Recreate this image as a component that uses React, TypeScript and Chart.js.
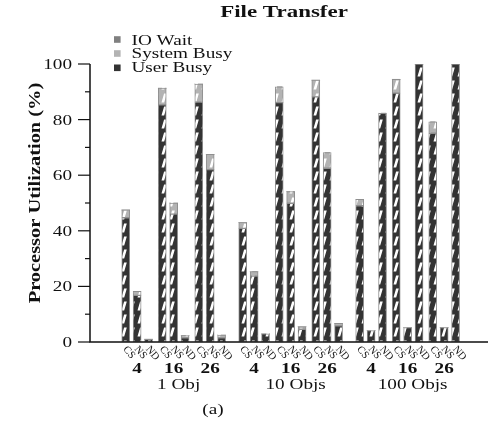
import { useEffect, useRef } from 'react';
import { Chart, registerables } from 'chart.js';

Chart.register(...registerables);

// ---- data ----
const groups = ['1 Obj', '10 Objs', '100 Objs'];
const subgroups = ['4', '16', '26'];
const configs = ['CS', 'NS', 'ND'];

// order: group -> subgroup -> config
const userBusy = [
  44.7, 16.8, 1.0, 85.3, 46.0, 1.5, 86.3, 62.0, 1.5,
  40.9, 23.7, 2.9, 86.1, 49.9, 4.6, 88.2, 62.5, 5.8,
  49.0, 4.1, 82.3, 89.5, 5.2, 100, 75.1, 5.2, 100,
];
const systemBusy = [
  2.8, 1.4, 0, 6.0, 4.0, 0.8, 6.5, 5.5, 1.0,
  2.1, 1.6, 0, 5.7, 4.2, 0.9, 6.0, 5.6, 0.9,
  2.3, 0, 0, 5.0, 0, 0, 4.1, 0, 0,
];
const ioWait = [
  0, 0, 0, 0, 0, 0, 0, 0, 0,
  0, 0, 0, 0, 0, 0, 0, 0, 0,
  0, 0, 0, 0, 0, 0, 0, 0, 0,
];
const yMajorTicks = [0, 20, 40, 60, 80, 100];
const yMinorTicks = [10, 30, 50, 70, 90];

const seriesLabels = ['IO Wait', 'System Busy', 'User Busy'];
const seriesColors = ['#808080', '#b3b3b3', '#333333'];

// ---- layout constants ----
const GROUP_STEP = 10.25;
const SUB_STEP = 3.2;
const xPos = (i: number) =>
  Math.floor(i / 9) * GROUP_STEP + (Math.floor(i / 3) % 3) * SUB_STEP + (i % 3);

const SERIF = '"Liberation Serif", "Times New Roman", serif';
const HS = 1.28;

function makePattern(bg: string, stripe: string) {
  const c = document.createElement('canvas');
  c.width = 8;
  c.height = 13;
  const x = c.getContext('2d')!;
  x.fillStyle = bg;
  x.fillRect(0, 0, 8, 13);
  x.fillStyle = stripe;
  x.beginPath();
  x.moveTo(1.5, 11.5);
  x.lineTo(4.2, 11.5);
  x.lineTo(6.8, 2.5);
  x.lineTo(4.1, 2.5);
  x.closePath();
  x.fill();
  return x.createPattern(c, 'repeat')!;
}

function txt(
  ctx: CanvasRenderingContext2D,
  s: string,
  x: number,
  y: number,
  font: string,
  align: CanvasTextAlign,
  sx = HS
) {
  ctx.save();
  ctx.font = font;
  ctx.fillStyle = '#111';
  ctx.textBaseline = 'alphabetic';
  ctx.textAlign = align;
  ctx.translate(x, y);
  ctx.scale(sx, 1);
  ctx.fillText(s, 0, 0);
  ctx.restore();
}

const decorPlugin = {
  id: 'decor',
  afterDraw(chart: any) {
    const ctx: CanvasRenderingContext2D = chart.ctx;
    const xs = chart.scales.x;
    const ys = chart.scales.y;
    const left = chart.chartArea.left;
    const right = chart.chartArea.right;
    const y0 = ys.getPixelForValue(0);

    ctx.save();
    ctx.strokeStyle = '#111';
    ctx.lineWidth = 1.5;
    // axes
    ctx.beginPath();
    ctx.moveTo(left, ys.getPixelForValue(100));
    ctx.lineTo(left, y0);
    ctx.lineTo(right, y0);
    ctx.stroke();
    // ticks
    ctx.lineWidth = 1.2;
    yMajorTicks.forEach((v) => {
      const y = ys.getPixelForValue(v);
      ctx.beginPath();
      ctx.moveTo(left - 12, y);
      ctx.lineTo(left, y);
      ctx.stroke();
      txt(ctx, String(v), 72, y + 5, `15px ${SERIF}`, 'right');
    });
    yMinorTicks.forEach((v) => {
      const y = ys.getPixelForValue(v);
      ctx.beginPath();
      ctx.moveTo(left - 5, y);
      ctx.lineTo(left, y);
      ctx.stroke();
    });
    ctx.restore();

    // y title
    ctx.save();
    ctx.font = `bold 17px ${SERIF}`;
    ctx.fillStyle = '#111';
    ctx.textAlign = 'center';
    ctx.textBaseline = 'alphabetic';
    ctx.translate(40, (ys.getPixelForValue(0) + ys.getPixelForValue(100)) / 2 - 10);
    ctx.rotate(-Math.PI / 2);
    ctx.scale(1.2, 1);
    ctx.fillText('Processor Utilization (%)', 0, 0);
    ctx.restore();

    // title
    txt(ctx, 'File Transfer', 284, 17, `bold 17px ${SERIF}`, 'center', 1.35);

    // legend
    const legY = [39.5, 53.5, 67.8];
    const legBase = [44.5, 58.3, 72];
    seriesLabels.forEach((lab, k) => {
      ctx.fillStyle = seriesColors[k];
      ctx.fillRect(114, legY[k] - 3.3, 6.6, 6.6);
      txt(ctx, lab, 131.5, legBase[k], `15px ${SERIF}`, 'left');
    });

    // bar labels
    userBusy.forEach((_, i) => {
      const cx = xs.getPixelForValue(xPos(i));
      ctx.save();
      ctx.font = `10.5px ${SERIF}`;
      ctx.fillStyle = '#111';
      ctx.textAlign = 'left';
      ctx.textBaseline = 'middle';
      ctx.translate(cx - 1, y0 + 5.5);
      ctx.rotate((50 * Math.PI) / 180);
      ctx.fillText(configs[i % 3], 0, 0);
      ctx.restore();
    });

    // subgroup labels
    groups.forEach((g, gi) => {
      subgroups.forEach((s, si) => {
        const mid = xs.getPixelForValue(gi * GROUP_STEP + si * SUB_STEP + 1);
        txt(ctx, s, mid, 373, `bold 15px ${SERIF}`, 'center');
      });
      const gc = xs.getPixelForValue(gi * GROUP_STEP + SUB_STEP + 1);
      txt(ctx, g, gc + 5, 388.5, `15px ${SERIF}`, 'center');
    });

    txt(ctx, '(a)', 213, 414, `15px ${SERIF}`, 'center');
  },
};

export default function App() {
  const ref = useRef<HTMLCanvasElement | null>(null);

  useEffect(() => {
    if (!ref.current) return;
    const userPat = makePattern('#333333', '#ffffff');
    const sysPat = makePattern('#b3b3b3', '#ffffff');
    const ioPat = makePattern('#808080', '#ffffff');
    const bw = (arr: number[]) => (c: any) => (arr[c.dataIndex] > 0 ? 1 : 0);
    const mk = (label: string, arr: number[], pat: CanvasPattern) => ({
      label,
      data: arr.map((v, i) => ({ x: xPos(i), y: v })),
      backgroundColor: pat,
      borderColor: '#8f8f8f',
      borderWidth: bw(arr),
      borderSkipped: false as const,
      barThickness: 8,
    });
    const chart = new Chart(ref.current, {
      type: 'bar',
      data: {
        datasets: [
          mk('User Busy', userBusy, userPat),
          mk('System Busy', systemBusy, sysPat),
          mk('IO Wait', ioWait, ioPat),
        ],
      },
      options: {
        animation: false,
        responsive: false,
        devicePixelRatio: 1,
        layout: { padding: { left: 90, right: 5, top: 64, bottom: 81 } },
        plugins: {
          legend: { display: false },
          tooltip: { enabled: false },
        },
        scales: {
          x: { type: 'linear', min: -0.64, max: 29.25, stacked: true, display: false },
          y: { min: 0, max: 100, stacked: true, display: false },
        },
      },
      plugins: [decorPlugin],
    } as any);
    return () => chart.destroy();
  }, []);

  return (
    <div style={{ position: 'absolute', left: 0, top: 0, width: 493, height: 423, background: '#fff' }}>
      <canvas ref={ref} width={493} height={423} style={{ width: 493, height: 423 }} />
    </div>
  );
}
